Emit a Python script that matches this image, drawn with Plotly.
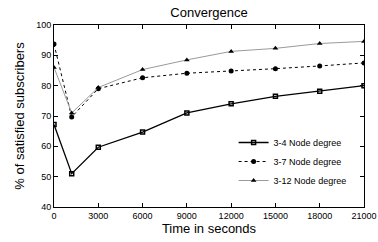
import plotly.graph_objects as go

time_s = [0, 1200, 3000, 6000, 9000, 12000, 15000, 18000, 21000]
deg_3_4 = [67.2, 51.0, 59.7, 64.7, 71.0, 74.0, 76.5, 78.2, 80.0]
deg_3_7 = [93.7, 69.7, 79.0, 82.6, 84.1, 84.8, 85.6, 86.5, 87.5]
deg_3_12 = [86.0, 71.0, 79.4, 85.3, 88.5, 91.3, 92.3, 93.9, 94.6]
x_ticks = [0, 3000, 6000, 9000, 12000, 15000, 18000, 21000]
y_ticks = [40, 50, 60, 70, 80, 90, 100]

fig = go.Figure()
fig.add_trace(go.Scatter(x=time_s, y=deg_3_4, name="3-4 Node degree", mode="lines+markers",
                         line=dict(color="black", width=1.3),
                         marker=dict(symbol="square-open", size=4, color="black", line=dict(width=1.5))))
fig.add_trace(go.Scatter(x=time_s, y=deg_3_7, name="3-7 Node degree", mode="lines+markers",
                         line=dict(color="black", width=1, dash="dot"),
                         marker=dict(symbol="circle", size=5, color="black")))
fig.add_trace(go.Scatter(x=time_s, y=deg_3_12, name="3-12 Node degree", mode="lines+markers",
                         line=dict(color="#9a9a9a", width=1),
                         marker=dict(symbol="triangle-up", size=5, color="black")))

axis_common = dict(showline=True, linecolor="black", linewidth=1, mirror="ticks",
                   ticks="inside", ticklen=4, tickcolor="black", showgrid=False, zeroline=False,
                   automargin=False, tickfont=dict(size=9, color="black"))
fig.update_xaxes(range=[0, 21000], tickvals=x_ticks, ticktext=[str(v) for v in x_ticks],
                 title=dict(text="Time in seconds", font=dict(size=13, color="black"), standoff=2),
                 **axis_common)
fig.update_yaxes(range=[40, 100], tickvals=y_ticks,
                 title=dict(text="% of satisfied subscribers", font=dict(size=13, color="black"), standoff=8),
                 **axis_common)
fig.update_layout(
    width=378, height=242,
    margin=dict(l=54, r=14, t=25, b=35),
    plot_bgcolor="white", paper_bgcolor="white",
    font=dict(family="Liberation Sans, Arial, sans-serif", color="black"),
    title=dict(text="Convergence", x=0.553, xanchor="center", y=0.95, yanchor="middle",
               font=dict(size=13, color="black")),
    legend=dict(x=0.96, y=0.25, xanchor="right", yanchor="middle", bgcolor="rgba(0,0,0,0)",
                font=dict(size=9), tracegroupgap=0, itemwidth=30),
)
fig.write_html("out.html", config={"displayModeBar": False},
               post_script="document.body.style.margin='0';document.body.style.overflow='hidden';")
